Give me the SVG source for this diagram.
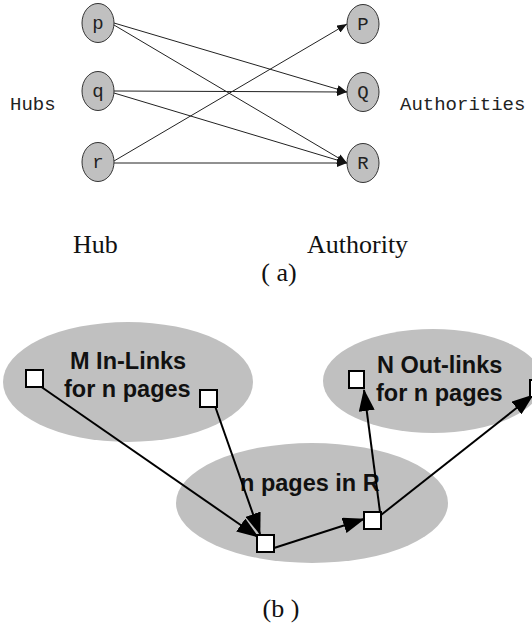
<svg xmlns="http://www.w3.org/2000/svg" width="532" height="629" viewBox="0 0 532 629">
  <defs>
    <marker id="arrowSmall" markerUnits="userSpaceOnUse" markerWidth="10" markerHeight="8" refX="10" refY="4" orient="auto">
      <path d="M0,0 L10,4 L0,8 z" fill="#111"/>
    </marker>
    <marker id="arrowBig" markerUnits="userSpaceOnUse" markerWidth="22" markerHeight="16" refX="21" refY="8" orient="auto">
      <path d="M0,0 L22,8 L0,16 z" fill="#000"/>
    </marker>
  </defs>
  <style>
    .node ellipse { fill: #c0c0c0; stroke: #333; stroke-width: 1; }
    .mono { font-family: "Liberation Mono", "DejaVu Sans Mono", monospace; font-size: 19px; fill: #222; }
    .serif { font-family: "Liberation Serif", "Times New Roman", serif; font-size: 26px; fill: #111; }
    .edgeA line { stroke: #222; stroke-width: 1; marker-end: url(#arrowSmall); }
    .blob { fill: #c0c0c0; }
    .bold { font-family: "Liberation Sans", Arial, sans-serif; font-weight: bold; font-size: 23.5px; fill: #111; }
    .page { fill: #fff; stroke: #000; stroke-width: 2; }
    .edgeB line { stroke: #000; stroke-width: 2; marker-end: url(#arrowBig); }
  </style>

  <!-- (a) hubs and authorities -->
  <text class="mono" x="10" y="110">Hubs</text>
  <text class="mono" x="400" y="110">Authorities</text>

  <g id="edges-a" class="edgeA">
    <line x1="114" y1="23" x2="347" y2="92"/>
    <line x1="114" y1="25" x2="347" y2="163"/>
    <line x1="114" y1="91" x2="347" y2="92"/>
    <line x1="114" y1="93" x2="347" y2="163"/>
    <line x1="114" y1="161" x2="347" y2="24"/>
    <line x1="114" y1="163" x2="347" y2="163"/>
  </g>

  <g id="hub-p" class="node"><ellipse cx="98" cy="23" rx="16" ry="19.5"/><text class="mono" x="98" y="29" text-anchor="middle">p</text></g>
  <g id="hub-q" class="node"><ellipse cx="98" cy="91" rx="16" ry="19.5"/><text class="mono" x="98" y="97" text-anchor="middle">q</text></g>
  <g id="hub-r" class="node"><ellipse cx="98" cy="162" rx="16" ry="19.5"/><text class="mono" x="98" y="168" text-anchor="middle">r</text></g>
  <g id="auth-P" class="node"><ellipse cx="363" cy="24" rx="16" ry="19.5"/><text class="mono" x="363" y="30" text-anchor="middle">P</text></g>
  <g id="auth-Q" class="node"><ellipse cx="363" cy="92" rx="16" ry="19.5"/><text class="mono" x="363" y="98" text-anchor="middle">Q</text></g>
  <g id="auth-R" class="node"><ellipse cx="363" cy="163" rx="16" ry="19.5"/><text class="mono" x="363" y="169" text-anchor="middle">R</text></g>

  <text class="serif" x="73" y="253">Hub</text>
  <text class="serif" x="307" y="253">Authority</text>
  <text class="serif" x="279" y="281" text-anchor="middle">( a)</text>

  <!-- (b) in-links, root set R and out-links -->
  <g id="in-links">
    <ellipse class="blob" cx="128" cy="382" rx="125" ry="60"/>
    <text class="bold" x="70" y="369">M In-Links</text>
    <text class="bold" x="64" y="397">for n pages</text>
  </g>
  <g id="out-links">
    <ellipse class="blob" cx="433" cy="381" rx="110" ry="52"/>
    <text class="bold" x="377" y="373">N Out-links</text>
    <text class="bold" x="376" y="401">for n pages</text>
  </g>
  <g id="root-set">
    <ellipse class="blob" cx="312" cy="503" rx="136" ry="60"/>
    <text class="bold" x="240" y="491">n pages in R</text>
  </g>

  <g id="edges-b" class="edgeB">
    <line x1="40" y1="386" x2="258" y2="537"/>
    <line x1="215" y1="406" x2="260" y2="534"/>
    <line x1="274" y1="548" x2="364" y2="519"/>
    <line x1="380" y1="512" x2="364" y2="390"/>
    <line x1="381" y1="515" x2="533" y2="395"/>
  </g>

  <g id="pages">
    <rect class="page" x="26" y="370" width="17" height="17"/>
    <rect class="page" x="200" y="390" width="17" height="17"/>
    <rect class="page" x="349" y="371" width="15" height="17"/>
    <rect class="page" x="530" y="380" width="17" height="17"/>
    <rect class="page" x="257" y="535" width="17" height="17"/>
    <rect class="page" x="364" y="512" width="17" height="17"/>
  </g>

  <text class="serif" x="281" y="617" text-anchor="middle">(b )</text>
</svg>
